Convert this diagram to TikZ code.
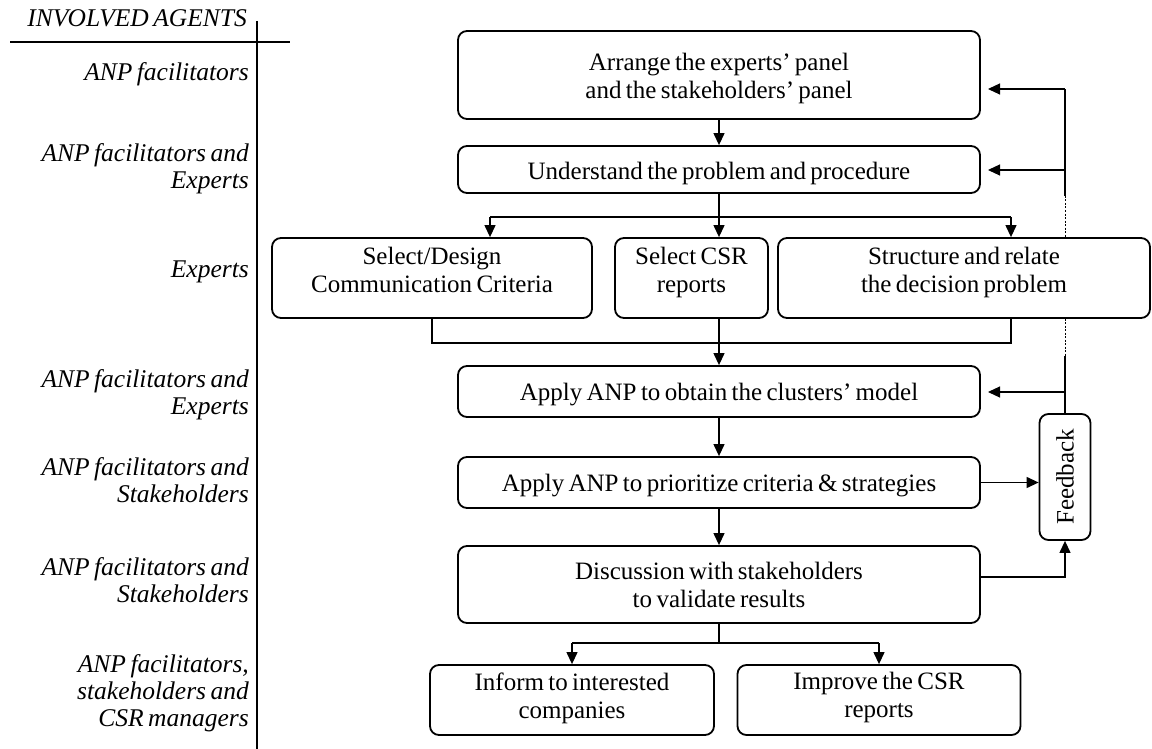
\documentclass[tikz,border=0pt]{standalone}
\usepackage{fontspec}
\setmainfont{Liberation Serif}[WordSpace=0.7]
\usetikzlibrary{arrows.meta,calc}
\newcommand\dnstrut[1]{\rule{0pt}{#1}}
\newcommand\upstrut[1]{\rule[-#1]{0pt}{0pt}}
\begin{document}
\begin{tikzpicture}[x=1pt,y=-1pt,
  box/.style={draw,line width=1.8pt,rounded corners=9pt,align=center,inner sep=0pt,fill=white,font=\fontsize{25}{28}\selectfont},
  lbl/.style={anchor=east,align=right,inner sep=0pt,font=\fontsize{25.5}{27}\selectfont\itshape},
  conn/.style={line width=1.2pt},
  dashline/.style={line width=0.8pt,dash pattern=on 2pt off 1.5pt},
  arr/.style={conn,-{Triangle[length=12pt,width=11pt]}},
]
\useasboundingbox (0,0) rectangle (1152,749);

% left column of agents
\coordinate (vtop) at (257,21);
\coordinate (vbot) at (257,749);
\coordinate (hl) at (10,42);
\coordinate (hr) at (290,42);
\draw[line width=1.4pt] (vtop) -- (vbot);
\draw[line width=1.2pt] (hl) -- (hr);
\node[lbl] (hdr) at (247,18) {INVOLVED AGENTS};
\node[lbl] (l1) at (249,74) {ANP facilitators};
\node[lbl] (l2) at (249,169) {ANP facilitators and\\Experts};
\node[lbl] (l3) at (249,272) {Experts};
\node[lbl] (l4) at (249,395) {ANP facilitators and\\Experts};
\node[lbl] (l5) at (249,480) {ANP facilitators and\\Stakeholders};
\node[lbl] (l6) at (249,580) {ANP facilitators and\\Stakeholders};
\node[lbl] (l7) at (249,693) {ANP facilitators,\\stakeholders and\\CSR managers};

% feedback return line (drawn first, boxes cover it)
\coordinate (ftop) at (1065,89);
\coordinate (f2) at (1065,170);
\coordinate (d1) at (1065,196);
\coordinate (d2) at (1065,356);
\coordinate (f4) at (1065,392);
\draw[dashline] (d1) -- (d2);

% boxes
\node[box,minimum width=522pt,minimum height=88pt] (b1) at (719,75) {\dnstrut{25pt}Arrange the experts’ panel\\and the stakeholders’ panel};
\node[box,minimum width=522pt,minimum height=47pt] (b2) at (719,169.5) {\dnstrut{25pt}Understand the problem and procedure};
\node[box,minimum width=320pt,minimum height=80pt] (b3a) at (432,278) {Select/Design\\Communication Criteria\upstrut{15.5pt}};
\node[box,minimum width=153pt,minimum height=80pt] (b3b) at (691.5,278) {Select CSR\\reports\upstrut{15.5pt}};
\node[box,minimum width=372pt,minimum height=80pt] (b3c) at (964,278) {Structure and relate\\the decision problem\upstrut{15.5pt}};
\node[box,minimum width=522pt,minimum height=51pt] (b4) at (719,391.5) {\dnstrut{23pt}Apply ANP to obtain the clusters’ model};
\node[box,minimum width=522pt,minimum height=51pt] (b5) at (719,482.5) {\dnstrut{23pt}Apply ANP to prioritize criteria \& strategies};
\node[box,minimum width=522pt,minimum height=77pt] (b6) at (719,584.5) {Discussion with stakeholders\\to validate results};
\node[box,minimum width=284pt,minimum height=70pt] (b7a) at (572,700) {Inform to interested\\companies\upstrut{9.5pt}};
\node[box,minimum width=283pt,minimum height=70pt] (b7b) at (879,700) {Improve the CSR\\reports\upstrut{9.5pt}};
\node[box,minimum width=51pt,minimum height=126pt] (fb) at (1065,477) {\rotatebox{90}{Feedback}};

% main flow
\draw[arr] (b1.south) -- (b2.north);
\coordinate (s1) at (719,217);
\coordinate (s1l) at (490,217);
\coordinate (s1r) at (1011,217);
\draw[conn] (b2.south) -- (s1);
\draw[conn] (s1l) -- (s1r);
\draw[arr] (s1l) -- (s1l |- b3a.north);
\draw[arr] (s1) -- (s1 |- b3b.north);
\draw[arr] (s1r) -- (s1r |- b3c.north);

\coordinate (m1l) at (432,343);
\coordinate (m1) at (719,343);
\coordinate (m1r) at (1011,343);
\draw[conn] (b3a.south) -- (m1l) -- (m1r) -- (m1r |- b3c.south);
\draw[conn] (m1 |- b3b.south) -- (m1);
\draw[arr] (m1) -- (b4.north);
\draw[arr] (b4.south) -- (b5.north);
\draw[arr] (b5.south) -- (b6.north);

\coordinate (s2) at (719,643);
\coordinate (s2l) at (572,643);
\coordinate (s2r) at (879,643);
\draw[conn] (b6.south) -- (s2);
\draw[conn] (s2l) -- (s2r);
\draw[arr] (s2l) -- (b7a.north);
\draw[arr] (s2r) -- (b7b.north);

% feedback
\draw[arr] (b5.east) -- (b5.east -| fb.west);
\coordinate (f6) at (980,577);
\draw[arr] (f6) -| (fb.south);
\draw[conn] (fb.north) -- (d2);
\draw[conn] (d1) -- (ftop);
\coordinate (a1) at (988,89);
\coordinate (a2) at (988,170);
\coordinate (a4) at (988,392);
\draw[arr] (ftop) -- (a1);
\draw[arr] (f2) -- (a2);
\draw[arr] (f4) -- (a4);
\end{tikzpicture}
\end{document}
